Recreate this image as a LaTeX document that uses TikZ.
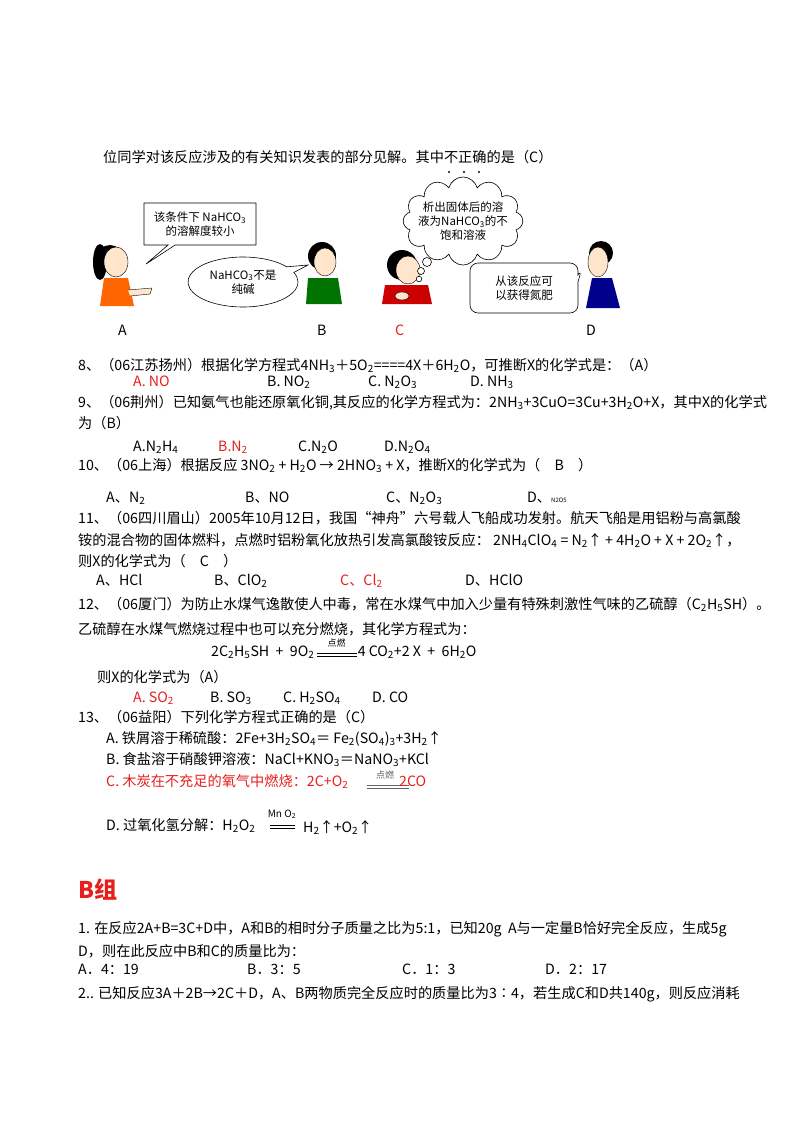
\documentclass[tikz,border=0pt]{standalone}
\usepackage{fontspec}
\setmainfont{Noto Sans CJK SC}
\usetikzlibrary{shapes.geometric,shapes.callouts,shapes.symbols,calc}
\newcommand\subs[1]{\textsubscript{#1}}
\definecolor{rd}{RGB}{230,30,30}
\tikzset{t/.style={anchor=base west,inner sep=0pt,font=\fontsize{14.2}{17}\selectfont},
 r/.style={t,text=rd},
 lbl/.style={anchor=base,inner sep=0pt,font=\fontsize{9}{9}\selectfont},
 ln/.style={line width=0.8pt},
 bub/.style={draw,line width=0.6pt,fill=white,align=center,font=\fontsize{11.5}{14}\selectfont},
 skin/.style={fill=orange!20!white,draw=black,line width=0.4pt}}
\begin{document}
\begin{tikzpicture}[x=1pt,y=-1pt]
\useasboundingbox (0,0) rectangle (800,1132);
% header line
\node[t] (l0) at (103,162) {位同学对该反应涉及的有关知识发表的部分见解。其中不正确的是（C）};
% figures
\fill[black] (110,258) circle (13); \fill[black] (100,262) ellipse (7 and 18);
\draw[skin] (116,262) ellipse (12 and 15);
\fill[orange!80!red] (104,278) -- (128,278) -- (134,306) -- (100,306) -- cycle;
\draw[skin] (128,290) -- (152,288) -- (150,294) -- (130,296);
\fill[black] (322,256) circle (14);
\draw[skin] (325,262) ellipse (11 and 14);
\fill[green!45!black] (308,278) -- (338,278) -- (342,304) -- (306,304) -- cycle;
\fill[black] (402,265) circle (15);
\draw[skin] (408,270) ellipse (12 and 14);
\fill[red!80!black] (385,285) -- (428,285) -- (432,304) -- (382,304) -- cycle;
\draw[skin] (402,296) ellipse (7 and 4);
\fill[black] (601,253) circle (12);
\draw[skin] (598,262) ellipse (10 and 15);
\fill[blue!55!black] (592,278) -- (612,278) -- (620,308) -- (586,308) -- cycle;
% bubbles
\node[bub,rectangle callout,minimum width=112,minimum height=42,callout absolute pointer={(146,264)}] (ba) at (200,224) {该条件下 NaHCO\subs{3}\\的溶解度较小};
\node[bub,ellipse callout,minimum width=110,minimum height=50,inner sep=0pt,callout absolute pointer={(308,265)}] (bb) at (243,282) {NaHCO\subs{3}不是\\纯碱};
\node[bub,cloud,cloud puffs=12,aspect=1.6,inner sep=-6pt] (bc) at (463,221) {析出固体后的溶\\液为NaHCO\subs{3}的不\\饱和溶液};
\draw[fill=white,line width=0.6pt] (427,262) circle (4.5) (421,271) circle (3.5) (419,279) circle (2.8);
\node[bub,rectangle callout,rounded corners=8,minimum width=108,minimum height=50,callout absolute pointer={(582,269)}] (bd) at (524,288) {从该反应可\\以获得氮肥};
\foreach \xx in {449,464,479} \fill (\xx,172) circle (1.1);
\node[t] (la) at (118,335) {A};
\node[t] (lb) at (317,335) {B};
\node[r] (lc) at (395,335) {C};
\node[t] (ld) at (586,335) {D};
% Q8
\node[t] (q8) at (78,370) {8、（06江苏扬州）根据化学方程式4NH\subs{3}＋5O\subs{2}====4X＋6H\subs{2}O，可推断X的化学式是：（A）};
\node[r] at (133,386) {A. NO};
\node[t] at (267,386) {B. NO\subs{2}};
\node[t] at (368,386) {C. N\subs{2}O\subs{3}};
\node[t] at (470,386) {D. NH\subs{3}};
% Q9
\node[t] (q9) at (78,407) {9、（06荆州）已知氨气也能还原氧化铜,其反应的化学方程式为：2NH\subs{3}+3CuO=3Cu+3H\subs{2}O+X，其中X的化学式};
\node[t] at (78,428) {为（B）};
\node[t] at (133,451) {A.N\subs{2}H\subs{4}};
\node[r] at (218,451) {B.N\subs{2}};
\node[t] at (298,451) {C.N\subs{2}O};
\node[t] at (384,451) {D.N\subs{2}O\subs{4}};
% Q10
\node[t] (q10) at (78,470) {10、（06上海）根据反应 3NO\subs{2} + H\subs{2}O → 2HNO\subs{3} + X，推断X的化学式为（\quad B\quad ）};
\node[t] at (106,502) {A、N\subs{2}};
\node[t] at (245,502) {B、NO};
\node[t] at (386,502) {C、N\subs{2}O\subs{3}};
\node[t] at (527,502) {D、{\fontsize{6}{6}\selectfont N2O5}};
% Q11
\node[t] (q11) at (78,523) {11、（06四川眉山）2005年10月12日，我国“神舟”六号载人飞船成功发射。航天飞船是用铝粉与高氯酸};
\node[t] at (78,545) {铵的混合物的固体燃料，点燃时铝粉氧化放热引发高氯酸铵反应：\ 2NH\subs{4}ClO\subs{4} = N\subs{2}↑ + 4H\subs{2}O + X + 2O\subs{2}↑，};
\node[t] at (78,566) {则X的化学式为（\quad C\quad ）};
\node[t] at (96,585) {A、HCl};
\node[t] at (214,585) {B、ClO\subs{2}};
\node[r] at (340,585) {C、Cl\subs{2}};
\node[t] at (465,585) {D、HClO};
% Q12
\node[t] (q12) at (78,609) {12、（06厦门）为防止水煤气逸散使人中毒，常在水煤气中加入少量有特殊刺激性气味的乙硫醇（C\subs{2}H\subs{5}SH）。};
\node[t] at (78,634) {乙硫醇在水煤气燃烧过程中也可以充分燃烧，其化学方程式为：};
\node[t] (e1) at (211,656) {2C\subs{2}H\subs{5}SH \ + \ 9O\subs{2}};
\coordinate (e1a) at ($(e1.base east)+(2,-3)$);
\draw[ln] (e1a) -- ++(40,0) ($(e1a)+(0,3)$) -- ++(40,0);
\node[lbl] (e1c) at ($(e1a)+(20,-7)$) {点燃};
\node[t] (e2) at ($(e1.base east)+(43,0)$) {4\ CO\subs{2}+2 X \ + \ 6H\subs{2}O};
\node[t] at (97,682) {则X的化学式为（A）};
\node[r] at (133,702) {A.\ SO\subs{2}};
\node[t] at (210,702) {B.\ SO\subs{3}};
\node[t] at (283,702) {C.\ H\subs{2}SO\subs{4}};
\node[t] at (372,702) {D.\ CO};
% Q13
\node[t] (q13) at (78,722) {13、（06益阳）下列化学方程式正确的是（C）};
\node[t] at (106,743) {A.\ 铁屑溶于稀硫酸：2Fe+3H\subs{2}SO\subs{4}＝ Fe\subs{2}(SO\subs{4})\subs{3}+3H\subs{2}↑};
\node[t] at (106,764) {B.\ 食盐溶于硝酸钾溶液：NaCl+KNO\subs{3}＝NaNO\subs{3}+KCl};
\node[r] at (106,786) {C.\ 木炭在不充足的氧气中燃烧：2C+O\subs{2}};
\draw[ln,draw=gray!80!black] (367,785) -- (409,785) (367,788) -- (409,788);
\node[lbl,text=gray!70!black] at (385,778) {点燃};
\node[r] at (399,786) {2CO};
\node[t] at (106,830) {D.\ 过氧化氢分解：H\subs{2}O\subs{2}};
\draw[ln] (270,825) -- (295,825) (270,828) -- (295,828);
\node[lbl,font=\fontsize{10}{10}\selectfont] at (282,817) {Mn O\subs{2}};
\node[t] at (303,832) {H\subs{2}↑+O\subs{2}↑};
% B group
\node[anchor=base west,inner sep=0pt,text=rd,font=\fontsize{23}{26}\selectfont\bfseries] (bg) at (78,898) {B组};
\node[t] (b1) at (78,933) {1. 在反应2A+B=3C+D中，A和B的相时分子质量之比为5:1，已知20g\ \ A与一定量B恰好完全反应，生成5g};
\node[t] at (78,956) {D，则在此反应中B和C的质量比为：};
\node[t] at (78,974) {A．4：19};
\node[t] at (247,974) {B．3：5};
\node[t] at (402,974) {C．1：3};
\node[t] at (545,974) {D．2：17};
\node[t] (b2) at (78,998) {2.. 已知反应3A＋2B→2C＋D，A、B两物质完全反应时的质量比为3∶4，若生成C和D共140g，则反应消耗};
\end{tikzpicture}
\end{document}
